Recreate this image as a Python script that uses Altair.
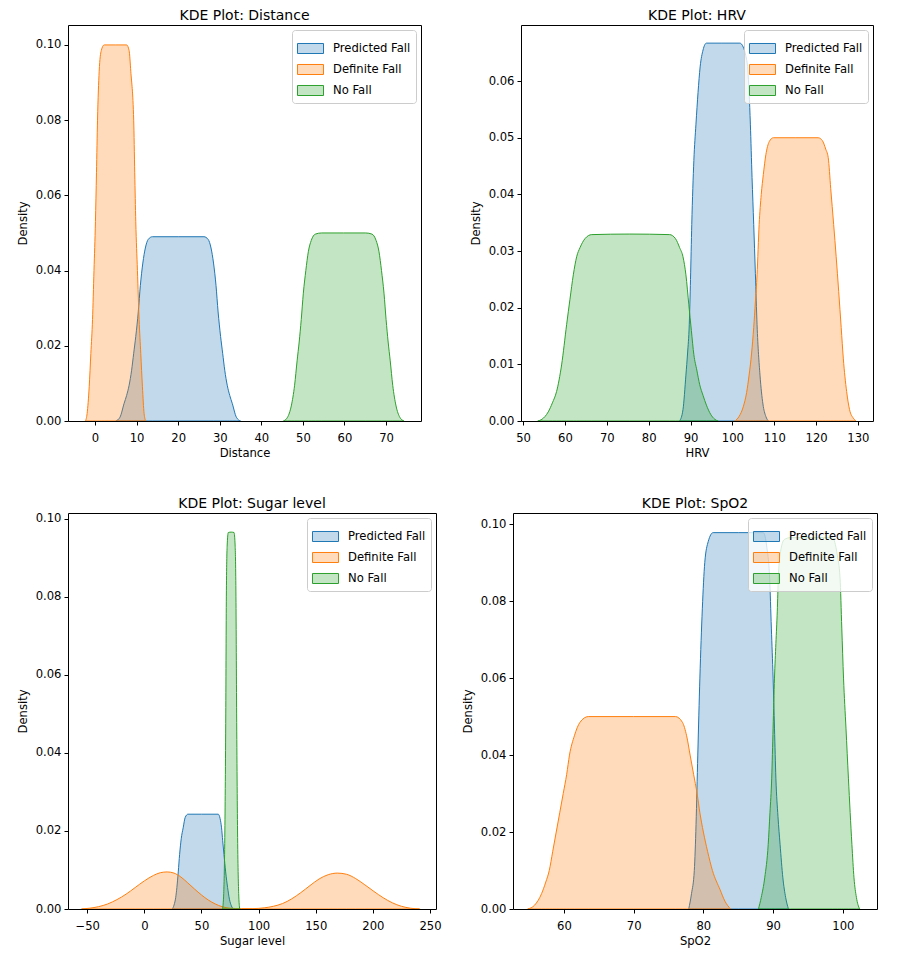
import altair as alt
import pandas as pd

GROUPS = ["Predicted Fall", "Definite Fall", "No Fall"]
COLORS = ["#1f77b4", "#ff7f0e", "#2ca02c"]
FILLS = ["rgba(31,119,180,0.28)", "rgba(255,127,14,0.28)", "rgba(44,160,44,0.28)"]

# ---------------- Distance ----------------
dist_pred_x = [5.0, 6.0, 7.0, 7.6, 8.2, 8.8, 9.3, 9.8, 10.4, 10.9, 11.5, 12.1, 12.8, 13.8, 20.0,
               26.2, 27.2, 27.9, 28.5, 29.1, 29.6, 30.2, 30.7, 31.2, 31.8, 32.4, 33.0, 34.0, 35.0]
dist_pred_d = [0.0, 0.001, 0.0047, 0.0068, 0.0095, 0.0135, 0.018, 0.0225, 0.029, 0.036, 0.042, 0.046, 0.0483, 0.049, 0.049,
               0.049, 0.0483, 0.046, 0.042, 0.036, 0.029, 0.0225, 0.018, 0.0135, 0.0095, 0.0068, 0.0047, 0.001, 0.0]
dist_def_x = [-2.3, -1.9, -1.4, -1.0, -0.6, -0.25, 0.1, 0.35, 0.6, 1.0, 1.5, 2.2, 5.0,
              7.6, 8.2, 8.6, 9.3, 9.55, 9.8, 10.2, 10.6, 11.0, 11.4, 11.8, 12.2]
dist_def_d = [0.0, 0.002, 0.0091, 0.018, 0.027, 0.040, 0.053, 0.066, 0.080, 0.093, 0.0985, 0.1, 0.1,
              0.1, 0.0985, 0.093, 0.080, 0.066, 0.053, 0.040, 0.027, 0.018, 0.0091, 0.002, 0.0]
dist_no_x = [45.3, 46.3, 47.2, 48.0, 48.6, 49.1, 49.6, 50.1, 50.7, 51.3, 52.0, 53.0, 54.5, 59.8,
             65.1, 66.6, 67.6, 68.3, 68.9, 69.5, 70.0, 70.5, 71.0, 71.6, 72.4, 73.3, 74.3]
dist_no_d = [0.0, 0.001, 0.004, 0.0095, 0.016, 0.021, 0.027, 0.034, 0.040, 0.045, 0.048, 0.0497, 0.05, 0.05,
             0.05, 0.0497, 0.048, 0.045, 0.040, 0.034, 0.027, 0.021, 0.016, 0.0095, 0.004, 0.001, 0.0]

# ---------------- HRV ----------------
hrv_pred_x = [87.4, 88.2, 88.9, 89.3, 89.7, 90.0, 90.3, 90.8, 91.3, 91.8, 92.3, 93.0, 93.8, 97.5,
              101.8, 102.6, 103.2, 103.7, 104.3, 104.7, 105.1, 105.5, 105.9, 106.6, 107.3, 108.0, 108.6]
hrv_pred_d = [0.0, 0.002, 0.0081, 0.012, 0.017, 0.025, 0.0347, 0.046, 0.0524, 0.058, 0.0625, 0.0655, 0.0667, 0.0667,
              0.0667, 0.066, 0.0645, 0.062, 0.0524, 0.043, 0.0347, 0.026, 0.017, 0.0081, 0.003, 0.0008, 0.0]
hrv_def_x = [100.6, 101.6, 102.6, 103.4, 104.0, 104.6, 105.1, 105.5, 105.9, 106.4, 106.9, 107.4, 108.0, 108.8, 109.8, 115.0,
             120.5, 121.5, 122.3, 122.9, 123.5, 124.2, 124.8, 125.4, 126.0, 126.5, 127.3, 128.0, 128.9, 129.5]
hrv_def_d = [0.0, 0.0008, 0.0025, 0.005, 0.0081, 0.012, 0.0165, 0.021, 0.0258, 0.0347, 0.040, 0.0435, 0.047, 0.0493, 0.05, 0.05,
             0.05, 0.0495, 0.048, 0.0465, 0.041, 0.0347, 0.029, 0.0229, 0.0165, 0.0111, 0.0052, 0.002, 0.0005, 0.0]
hrv_no_x = [53.5, 54.5, 56.0, 57.0, 58.0, 59.2, 60.4, 61.2, 62.0, 62.8, 63.6, 64.8, 66.4, 75.5,
            85.0, 86.4, 87.4, 88.2, 88.9, 89.6, 90.2, 90.8, 91.5, 92.2, 93.0, 93.8, 94.8, 95.8, 96.6]
hrv_no_d = [0.0, 0.0003, 0.0016, 0.0032, 0.0052, 0.0099, 0.017, 0.0215, 0.0258, 0.029, 0.0306, 0.0322, 0.0329, 0.033,
            0.0329, 0.0322, 0.0306, 0.029, 0.0258, 0.0205, 0.016, 0.0117, 0.009, 0.0064, 0.0045, 0.0028, 0.0012, 0.0003, 0.0]

# ---------------- Sugar level ----------------
sug_pred_x = [24.5, 26.0, 27.5, 28.5, 29.7, 30.9, 32.3, 34.0, 35.8, 38.2, 50.0,
              64.7, 66.3, 67.6, 68.6, 69.7, 71.2, 72.9, 74.5, 76.2, 78.0]
sug_pred_d = [0.0, 0.001, 0.003, 0.0055, 0.0095, 0.014, 0.018, 0.0208, 0.0235, 0.0243, 0.0243,
              0.0243, 0.0232, 0.0208, 0.0175, 0.014, 0.0095, 0.0055, 0.0025, 0.0008, 0.0]
sug_def_x = [-55, -48, -40, -32, -24, -16, -8, 0, 8, 14, 20, 26, 32, 38, 44, 50, 56, 62, 68, 75,
             85, 95, 105, 113, 121, 129, 137, 145, 153, 161, 169, 177, 185, 193, 201, 209, 217, 225, 233, 241]
sug_def_d = [0.0, 0.0002, 0.0006, 0.0013, 0.0024, 0.0038, 0.0055, 0.0072, 0.0086, 0.0093, 0.0095, 0.0092, 0.0082,
             0.0067, 0.0051, 0.0036, 0.0023, 0.0013, 0.0006, 0.0002, 0.0001, 0.0001, 0.0003, 0.0007, 0.0014, 0.0026,
             0.0042, 0.006, 0.0077, 0.0088, 0.0092, 0.0089, 0.0078, 0.0062, 0.0045, 0.0029, 0.0016, 0.0007, 0.0002, 0.0]
sug_no_x = [68.5, 69.5, 70.5, 71.3, 71.8, 72.5, 73.5, 76.0, 78.5, 79.5, 80.2, 80.8, 81.6, 82.6, 83.5]
sug_no_d = [0.0, 0.004, 0.02, 0.05, 0.08, 0.093, 0.0965, 0.0966, 0.0965, 0.093, 0.08, 0.05, 0.02, 0.004, 0.0]

# ---------------- SpO2 ----------------
spo_pred_x = [77.9, 78.3, 78.7, 78.95, 79.2, 79.5, 79.85, 80.2, 80.7, 81.4, 85.0,
              88.6, 89.1, 89.5, 89.75, 90.0, 90.2, 90.4, 90.7, 91.0, 91.4, 91.8, 92.2]
spo_pred_d = [0.0, 0.004, 0.010, 0.022, 0.040, 0.060, 0.078, 0.090, 0.0955, 0.0978, 0.0978,
              0.0978, 0.094, 0.086, 0.073, 0.060, 0.047, 0.034, 0.024, 0.0168, 0.0081, 0.003, 0.0]
spo_def_x = [54.8, 55.8, 56.8, 57.4, 57.9, 58.4, 58.9, 59.4, 59.9, 60.4, 60.8, 61.5, 62.3, 63.5, 70.0,
             76.0, 77.0, 77.6, 78.1, 78.6, 79.1, 79.5, 80.0, 80.6, 81.3, 82.4, 83.1, 83.9]
spo_def_d = [0.0, 0.001, 0.004, 0.007, 0.010, 0.015, 0.020, 0.025, 0.030, 0.035, 0.040, 0.045, 0.0485, 0.05, 0.05,
             0.05, 0.0485, 0.045, 0.040, 0.035, 0.030, 0.025, 0.020, 0.015, 0.010, 0.005, 0.002, 0.0]
spo_no_x = [87.9, 88.3, 88.8, 89.3, 89.55, 89.8, 90.0, 90.2, 90.4, 90.6, 90.75, 91.0, 91.6, 92.5, 95.0,
            98.5, 99.2, 99.6, 99.85, 100.1, 100.45, 100.8, 101.3, 101.6, 101.95, 102.4]
spo_no_d = [0.0, 0.003, 0.0081, 0.0168, 0.025, 0.034, 0.047, 0.060, 0.069, 0.0774, 0.086, 0.092, 0.096, 0.0965, 0.0965,
            0.0965, 0.092, 0.086, 0.073, 0.060, 0.047, 0.034, 0.0168, 0.0081, 0.003, 0.0]

# axis ticks
dist_xticks = [0, 10, 20, 30, 40, 50, 60, 70]
hrv_xticks = [50, 60, 70, 80, 90, 100, 110, 120, 130]
sug_xticks = [-50, 0, 50, 100, 150, 200, 250]
spo_xticks = [60, 70, 80, 90, 100]
yticks_02 = [0.0, 0.02, 0.04, 0.06, 0.08, 0.10]
yticks_01 = [0.0, 0.01, 0.02, 0.03, 0.04, 0.05, 0.06]

FONT = "DejaVu Sans"


def frame(series):
    rows = []
    for g, xs, ds in series:
        for x, d in zip(xs, ds):
            rows.append({"x": x, "density": d, "group": g})
    return pd.DataFrame(rows)


def legend():
    return alt.Legend(
        title=None, orient="top-right", offset=5,
        symbolType="M-1,-0.385H1V0.385H-1Z", symbolSize=676, symbolStrokeWidth=1,
        fillColor="rgba(255,255,255,0.8)", strokeColor="#cccccc", cornerRadius=3,
        padding=5, rowPadding=-2, labelOffset=9, labelFont=FONT, labelFontSize=11.6,
        labelColor="#000000", labelLimit=300,
    )


def panel(series, title, xtitle, xdomain, ytop, xticks, yticks, w, h):
    df = frame(series)
    return alt.Chart(df).mark_area(
        strokeWidth=1, interpolate="monotone", clip=True
    ).encode(
        x=alt.X("x:Q", scale=alt.Scale(domain=xdomain, nice=False, zero=False),
                axis=alt.Axis(values=xticks, title=xtitle, format="d", labelPadding=7, titlePadding=4,
                              grid=False, domain=False)),
        y=alt.Y("density:Q", stack=None, scale=alt.Scale(domain=[0, ytop], nice=False, zero=True),
                axis=alt.Axis(values=yticks, format=".2f", title="Density", labelPadding=3, titlePadding=7,
                              grid=False, domain=False)),
        fill=alt.Fill("group:N", scale=alt.Scale(domain=GROUPS, range=FILLS), legend=legend()),
        stroke=alt.Stroke("group:N", scale=alt.Scale(domain=GROUPS, range=COLORS), legend=legend()),
        detail="group:N",
    ).properties(
        width=w, height=h,
        title=alt.TitleParams(title, fontSize=14, font=FONT, fontWeight="normal", color="#000000", offset=2),
    )


p1 = panel([(GROUPS[0], dist_pred_x, dist_pred_d), (GROUPS[1], dist_def_x, dist_def_d), (GROUPS[2], dist_no_x, dist_no_d)],
           "KDE Plot: Distance", "Distance", [-6.5, 78.4], 0.1053, dist_xticks, yticks_02, 353, 396)
p2 = panel([(GROUPS[0], hrv_pred_x, hrv_pred_d), (GROUPS[1], hrv_def_x, hrv_def_d), (GROUPS[2], hrv_no_x, hrv_no_d)],
           "KDE Plot: HRV", "HRV", [49.5, 133.6], 0.0699, hrv_xticks, yticks_01, 352, 396)
p3 = panel([(GROUPS[0], sug_pred_x, sug_pred_d), (GROUPS[1], sug_def_x, sug_def_d), (GROUPS[2], sug_no_x, sug_no_d)],
           "KDE Plot: Sugar level", "Sugar level", [-66.8, 255.3], 0.1015, sug_xticks, yticks_02, 368, 396)
p4 = panel([(GROUPS[0], spo_pred_x, spo_pred_d), (GROUPS[1], spo_def_x, spo_def_d), (GROUPS[2], spo_no_x, spo_no_d)],
           "KDE Plot: SpO2", "SpO2", [52.7, 104.9], 0.1029, spo_xticks, yticks_02, 364, 396)

res = dict(fill="independent", stroke="independent")
row1 = alt.hconcat(p1, p2, spacing=100, bounds="flush").resolve_scale(**res).resolve_legend(**res)
row2 = alt.hconcat(p3, p4, spacing=77, bounds="flush").resolve_scale(**res).resolve_legend(**res)

chart = alt.vconcat(row1, row2, spacing=36).resolve_scale(**res).resolve_legend(**res).properties(
    padding={"left": 8, "top": 0, "right": 5, "bottom": 0}, background="white"
).configure_axis(
    labelFont=FONT, labelFontSize=11.6, labelColor="#000000",
    titleFont=FONT, titleFontSize=11.6, titleFontWeight="normal", titleColor="#000000",
    tickColor="#000000", tickSize=4, tickWidth=1, domain=False, grid=False,
).configure_view(
    stroke="#000000", strokeWidth=1
)

chart.save("out.html", embed_options={"renderer": "svg", "actions": False})
